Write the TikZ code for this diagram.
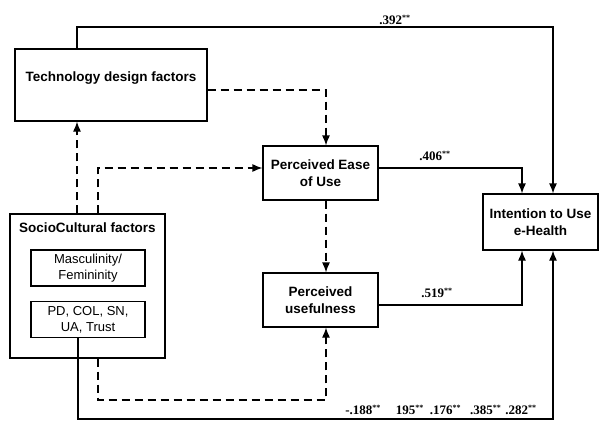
\documentclass[tikz,border=0pt]{standalone}
\usepackage{fontspec}
\setmainfont{Liberation Sans}
\newfontfamily\coeffont{Liberation Serif}
\usetikzlibrary{shapes,arrows,arrows.meta,positioning,calc}

\tikzset{
  factor/.style={rectangle, draw, line width=1.2pt, align=center, font=\bfseries\fontsize{13.5}{16.5}\selectfont},
  subfactor/.style={rectangle, draw, line width=1.2pt, align=center, font=\fontsize{13}{16}\selectfont, minimum width=114pt, minimum height=36pt, inner sep=0pt},
  path/.style={line width=1.2pt, -{Latex[length=10pt,width=8pt]}},
  dpath/.style={line width=1.2pt, -{Latex[length=10pt,width=8pt]}, dash pattern=on 8pt off 5pt},
  coef/.style={font=\coeffont\bfseries\fontsize{13}{14}\selectfont, inner sep=1pt}
}
\newcommand{\sig}[1]{#1\textsuperscript{\fontsize{8}{8}\selectfont **}}

\begin{document}
\begin{tikzpicture}[x=1pt, y=-1pt]
\useasboundingbox (0,0) rectangle (599,420);

\node[factor, minimum width=192pt, minimum height=72pt] (tech) at (111,85) {Technology design factors\\ \mbox{}};
\node[factor, minimum width=155pt, minimum height=144pt] (socio) at (87.5,286) {};
\node[font=\bfseries\fontsize{13.5}{16}\selectfont] (sotitle) at (87.5,228) {SocioCultural factors};
\node[subfactor] (masc) at (88,268) {Masculinity/\\Femininity};
\node[subfactor] (pd) at (88,319.5) {PD, COL, SN,\\UA, Trust};
\node[factor, minimum width=115pt, minimum height=54pt, inner sep=0pt] (peou) at (320.5,173) {Perceived Ease\\of Use};
\node[factor, minimum width=115pt, minimum height=54pt, inner sep=0pt] (pu) at (320.5,300) {Perceived\\usefulness};
\node[factor, minimum width=115pt, minimum height=56pt, inner sep=0pt] (itu) at (540.5,222) {Intention to Use\\e-Health};

% solid paths
\draw[path] (tech.north -| 77,0) |- (553,27) -- (itu.north -| 553,0);
\node[coef] (c1) at (395,20) {\sig{.392}};
\draw[path] (peou.east |- 0,168) -| (itu.north -| 522,0);
\node[coef] (c2) at (435,156) {\sig{.406}};
\draw[path] (pu.east |- 0,305) -| (itu.south -| 522,0);
\node[coef] (c3) at (437,293) {\sig{.519}};
\draw[path] (pd.south -| 78,0) |- (553,419) -- (itu.south -| 553,0);
\node[coef] (c4) at (441,410) {\sig{-.188}\hspace{15pt}\sig{195}\hspace{6pt}\sig{.176}\hspace{9pt}\sig{.385}\hspace{4pt}\sig{.282}};

% dashed paths
\draw[dpath] (tech.east |- 0,90) -| (peou.north -| 326,0);
\draw[dpath] (socio.north -| 77,0) -- (tech.south -| 77,0);
\draw[dpath] (socio.north -| 98,0) |- (peou.west |- 0,168);
\draw[dpath] (peou.south -| 326,0) -- (pu.north -| 326,0);
\draw[dpath] (socio.south -| 98,0) |- (326,400) -- (pu.south -| 326,0);
\end{tikzpicture}
\end{document}
